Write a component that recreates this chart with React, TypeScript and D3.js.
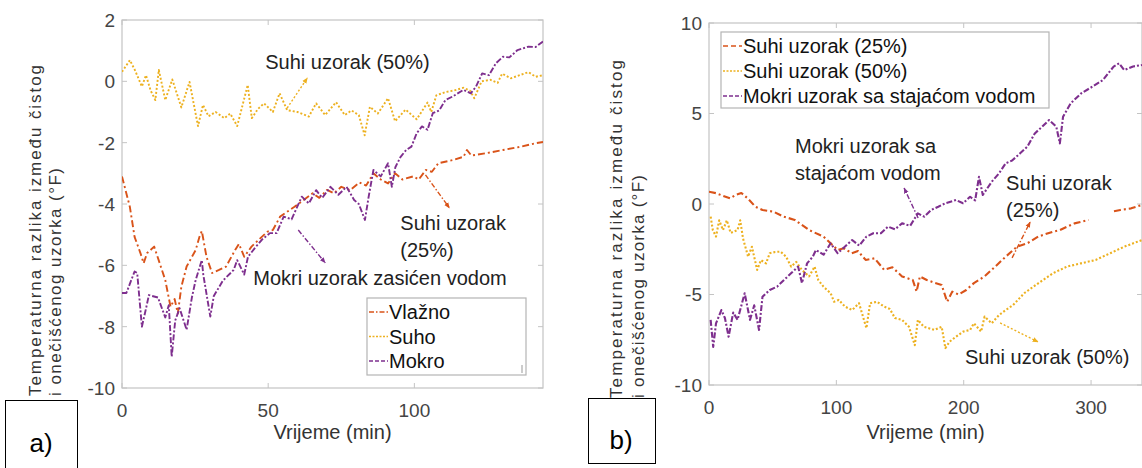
import React from 'react';
import * as d3 from 'd3';

// Series colours (MATLAB default order)
const COL_ORANGE = '#D95319';
const COL_YELLOW = '#EDB120';
const COL_PURPLE = '#7E2F8E';
const FONT = '"Liberation Sans", Arial, Helvetica, sans-serif';

// ---------- Panel a) ----------
const aTicksX = [0, 50, 100];
const aTicksY = [-10, -8, -6, -4, -2, 0, 2];
const aLegend = ['Vlažno', 'Suho', 'Mokro'];

const aVlaznoT = [0, 2.7, 4.3, 6.3, 7.4, 8.6, 11, 12.9, 14.8, 16.6, 18, 19.1, 20.3, 22.1, 25.2, 26.5, 27.3, 28.9, 30.8, 33.2, 35.6, 38.7, 40, 41.8, 44.3, 46.7, 49.8, 51.6, 54.1, 59, 65.2, 67.5, 70.1, 72.5, 75, 78, 81.2, 83.5, 86, 88.5, 91, 93.4, 95.9, 99.6, 101.5, 103.9, 106, 108.2, 113, 116.8, 118, 119.5, 124.2, 130.3, 136.5, 141.4, 144];
const aVlaznoV = [-3.1, -4.1, -5.07, -5.6, -5.93, -5.6, -5.39, -5.93, -6.48, -7.35, -7.1, -7.57, -6.7, -6.04, -5.5, -5.07, -4.88, -5.72, -6.25, -6.15, -6.04, -5.5, -5.3, -5.72, -5.39, -5.17, -4.9, -4.85, -4.41, -4.09, -3.65, -3.8, -3.54, -3.65, -3.44, -3.55, -3.3, -3.4, -3.0, -3.2, -3.33, -3.0, -3.2, -3.1, -3.2, -2.89, -2.95, -2.67, -2.57, -2.46, -2.24, -2.42, -2.35, -2.24, -2.13, -2.02, -1.98];

const aSuhoT = [0, 2.7, 4.5, 6.8, 8.2, 9.8, 11.4, 12.6, 14.8, 17.2, 20.3, 23.1, 26, 27.7, 29.6, 32, 35, 37, 39.4, 43, 44.4, 46.5, 48.6, 51.6, 53.9, 56.5, 60, 63.9, 66.4, 69.5, 73.2, 76.2, 78.5, 81, 83, 84.8, 87.5, 91, 93.4, 97, 100.8, 104.5, 105.8, 107.5, 110.6, 113.5, 116.8, 119, 120.5, 123, 126, 128.5, 130, 133, 136, 139, 141.5, 144];
const aSuhoV = [0.31, 0.69, 0.35, -0.17, 0.2, -0.3, -0.61, 0.37, -0.61, 0.06, -0.85, -0.02, -1.46, -0.77, -1.14, -1.0, -1.2, -1.05, -1.46, -0.12, -1.2, -0.9, -0.72, -1.0, -0.39, -0.94, -1.0, -1.15, -0.72, -1.1, -0.68, -1.1, -0.95, -1.1, -1.76, -0.83, -1.05, -0.55, -1.3, -0.92, -1.24, -0.69, -1.0, -0.46, -0.35, -0.3, -0.21, -0.3, -0.55, 0.0, 0.05, -0.05, 0.25, 0.1, 0.2, 0.3, 0.15, 0.2];

const aMokroT = [0, 1.5, 4.3, 5.2, 6.8, 8, 9.2, 12.3, 14.8, 16, 17, 18.2, 19.7, 22.1, 23.9, 25.2, 27.3, 27.8, 30.2, 31.4, 34.5, 38.2, 39.4, 41.8, 43.1, 45.5, 47.9, 50.6, 52.9, 55.3, 58, 61.5, 63.9, 66.4, 68.5, 71.3, 74, 76.8, 79.4, 81, 83.1, 84.3, 86, 88.5, 91, 92.3, 93.5, 95.3, 97.2, 99, 100.8, 102.6, 104.5, 106.3, 108.5, 110.6, 113, 116.8, 119.3, 121.1, 123.2, 125.5, 127.9, 130.3, 132.5, 135.3, 139, 141.5, 144];
const aMokroV = [-6.9, -6.9, -6.2, -6.25, -8.0, -7.5, -6.97, -7.05, -7.7, -7.3, -8.98, -7.8, -7.4, -8.1, -7.05, -6.48, -5.83, -6.3, -7.67, -7.0, -6.5, -6.15, -5.83, -6.3, -5.72, -5.43, -5.16, -4.95, -4.95, -4.41, -4.5, -3.76, -3.98, -3.55, -3.8, -3.44, -3.7, -3.44, -3.87, -4.0, -4.52, -3.8, -2.89, -3.1, -2.67, -3.44, -2.8, -2.46, -2.24, -2.13, -1.69, -1.47, -1.58, -1.04, -0.95, -0.61, -0.5, -0.28, -0.39, -0.17, 0.26, 0.2, 0.59, 0.8, 0.78, 1.02, 1.13, 1.12, 1.3];

// ---------- Panel b) ----------
const bTicksX = [0, 100, 200, 300];
const bTicksY = [-10, -5, 0, 5, 10];
const bLegend = ['Suhi uzorak (25%)', 'Suhi uzorak (50%)', 'Mokri uzorak sa stajaćom vodom'];

const bSuhi25T = [0, 5.5, 11, 16.7, 21, 25.4, 30.7, 36.4, 42, 50.5, 58.7, 67.4, 78.6, 89.9, 95.5, 101, 106, 112, 117, 123, 130, 137.5, 144, 151.6, 160, 163, 165.6, 171, 177, 182.7, 187, 191, 196, 202, 208, 216.4, 224.7, 233, 241.8, 250, 258.6, 270, 275.5, 287, 298, 305, 318, 323, 331.5, 340];
const bSuhi25V = [0.68, 0.6, 0.45, 0.31, 0.5, 0.61, 0.29, -0.15, -0.33, -0.42, -0.7, -0.88, -1.44, -1.8, -2.17, -2.54, -2.45, -2.72, -2.6, -3.09, -3.0, -3.64, -3.5, -4.0, -4.2, -4.84, -4.0, -4.2, -4.35, -4.47, -5.4, -4.84, -5.0, -4.75, -4.37, -4.0, -3.46, -2.91, -2.36, -2.17, -1.8, -1.53, -1.44, -1.07, -0.88, NaN, -0.4, -0.33, -0.24, -0.05];

const bSuhi50T = [1.3, 3, 5.5, 8, 11, 14, 17, 22.4, 24.5, 26.7, 30.7, 33.7, 37.8, 40.8, 44.8, 47.7, 52, 56.2, 60.5, 64.5, 68.5, 73, 78.6, 82.9, 85.8, 89.9, 95.5, 98.2, 102, 106.8, 112.4, 117.8, 123.6, 126.5, 132, 137.5, 142, 146, 151.6, 157, 161.6, 164, 168.6, 177, 182.7, 185.6, 189, 194, 199.6, 205, 208, 213.7, 216.4, 222, 227.8, 233, 238.8, 247.5, 258.5, 270, 281, 292, 303.6, 315, 326, 340];
const bSuhi50V = [-0.7, -1.44, -1.8, -0.9, -1.44, -0.9, -1.6, -1.44, -0.9, -1.9, -2.91, -2.36, -3.64, -3.1, -3.28, -2.72, -2.65, -2.63, -2.91, -3.46, -3.2, -3.65, -4.0, -3.46, -4.2, -4.57, -4.93, -5.4, -5.3, -5.67, -5.86, -5.48, -6.86, -5.48, -5.4, -5.67, -5.8, -6.3, -6.4, -6.78, -7.8, -6.4, -6.78, -6.96, -6.78, -7.96, -7.6, -7.33, -7.05, -6.96, -6.59, -7.05, -6.22, -6.59, -6.13, -5.86, -5.58, -4.93, -4.38, -3.83, -3.46, -3.28, -3.09, -2.72, -2.36, -1.99];

const bMokriT = [1.3, 3.3, 5.5, 9.7, 12.5, 15.4, 19, 22.4, 28, 32.2, 35.5, 39.3, 42, 47.7, 53.4, 58.9, 64.4, 70, 73, 77, 81.5, 84, 90, 95.5, 101, 106, 112.4, 118, 123.6, 129, 135, 140.6, 146, 151.6, 158, 164, 169, 174.4, 180, 185.5, 194, 199.5, 205, 209, 212, 215, 222, 227.8, 233, 238, 244.3, 250, 255.8, 261.6, 267, 272.7, 275.5, 278, 284, 292.4, 301, 309.3, 317.7, 322, 326, 333, 340];
const bMokriV = [-6.4, -7.9, -6.6, -5.86, -6.3, -7.33, -6.0, -6.4, -4.93, -6.4, -5.6, -6.96, -5.12, -4.75, -4.57, -4.2, -3.83, -3.46, -4.37, -3.28, -2.91, -2.54, -2.8, -2.17, -2.72, -2.4, -1.99, -2.3, -1.8, -1.62, -1.62, -1.25, -1.4, -1.07, -1.2, -0.52, -0.7, -0.33, -0.15, 0.04, 0.22, 0.04, 0.4, 0.2, 1.5, 0.5, 1.23, 1.7, 2.25, 2.4, 2.8, 3.17, 3.9, 4.27, 4.64, 4.27, 3.35, 4.82, 5.56, 6.12, 6.48, 6.85, 7.59, 7.77, 7.4, 7.6, 7.68];

type Pt = [number, number];
const zip = (t: number[], v: number[]): Pt[] => t.map((d, i) => [d, v[i]]);

const STYLE = {
  dashdot: '7,3,2,3',
  dotted: '2,2',
  dashdotPurple: '6,2,2,2',
};

type Series = { pts: Pt[]; color: string; dash: string };
type Note = { lines: string[]; x: number; y: number; from: Pt; to: Pt; color: string; dash: string };

function Panel(props: {
  id: string;
  x0: number; x1: number; y0: number; y1: number;
  xDomain: [number, number]; yDomain: [number, number];
  ticksX: number[]; ticksY: number[];
  series: Series[];
  notes: Note[];
  lineWidth: number;
}) {
  const { id, x0, x1, y0, y1, xDomain, yDomain, ticksX, ticksY, series, notes, lineWidth } = props;
  const x = d3.scaleLinear().domain(xDomain).range([x0, x1]);
  const y = d3.scaleLinear().domain(yDomain).range([y1, y0]);
  const line = d3.line<Pt>().defined((d) => !isNaN(d[1])).x((d) => x(d[0])).y((d) => y(d[1]));
  const tickLen = 5;
  const axisCol = '#c4c4c4';
  return (
    <g>
      <defs>
        <clipPath id={`clip-${id}`}>
          <rect x={x0} y={y0} width={x1 - x0} height={y1 - y0} />
        </clipPath>
      </defs>
      <rect x={x0} y={y0} width={x1 - x0} height={y1 - y0} fill="#fff" stroke={axisCol} strokeWidth={1.2} />
      {ticksX.map((t) => (
        <g key={`tx${t}`}>
          <line x1={x(t)} x2={x(t)} y1={y1} y2={y1 - tickLen} stroke={axisCol} />
          <line x1={x(t)} x2={x(t)} y1={y0} y2={y0 + tickLen} stroke={axisCol} />
          <text x={x(t)} y={y1 + 29} textAnchor="middle" fontSize={19} fill="#444" fontFamily={FONT}>{t}</text>
        </g>
      ))}
      {ticksY.map((t) => (
        <g key={`ty${t}`}>
          <line x1={x0} x2={x0 + tickLen} y1={y(t)} y2={y(t)} stroke={axisCol} />
          <line x1={x1} x2={x1 - tickLen} y1={y(t)} y2={y(t)} stroke={axisCol} />
          <text x={x0 - 7} y={y(t)} dy="0.36em" textAnchor="end" fontSize={19} fill="#444" fontFamily={FONT}>{t}</text>
        </g>
      ))}
      <g clipPath={`url(#clip-${id})`}>
        {series.map((s, i) => (
          <path key={i} d={line(s.pts) || ''} fill="none" stroke={s.color} strokeWidth={lineWidth} strokeDasharray={s.dash} strokeLinejoin="round" />
        ))}
      </g>
      {notes.map((n, i) => (
        <g key={`n${i}`}>
          <line x1={x(n.from[0])} y1={y(n.from[1])} x2={x(n.to[0])} y2={y(n.to[1])} stroke={n.color} strokeWidth={1.4} strokeDasharray={n.dash} markerEnd={`url(#head-${n.color.slice(1)})`} />
          {n.lines.map((l, j) => (
            <text key={j} x={x(n.x)} y={y(n.y) + j * 27} fontSize={20} fill="#222" fontFamily={FONT}>{l}</text>
          ))}
        </g>
      ))}
      <text x={(x0 + x1) / 2} y={439} textAnchor="middle" fontSize={20} fill="#333" fontFamily={FONT}>Vrijeme (min)</text>
    </g>
  );
}

function YLabel({ xa, xb, bottom, la, lb }: { xa: number; xb: number; bottom: number; la: number; lb: number }) {
  return (
    <g fontFamily={FONT} fontSize={17} fill="#333">
      <text transform={`translate(${xa},${bottom}) rotate(-90)`} textLength={la} lengthAdjust="spacing">Temperaturna razlika između čistog</text>
      <text transform={`translate(${xb},${bottom}) rotate(-90)`} textLength={lb} lengthAdjust="spacing">i onečišćenog uzorka (°F)</text>
    </g>
  );
}

function Legend({ x, y, w, h, items, colors, dashes, sample, rowH, tick }: {
  x: number; y: number; w: number; h: number; items: string[]; colors: string[]; dashes: string[]; sample: number; rowH: number; tick?: boolean;
}) {
  return (
    <g fontFamily={FONT}>
      <rect x={x} y={y} width={w} height={h} fill="#fff" stroke="#b4b4b4" strokeWidth={1.2} />
      {items.map((it, i) => {
        const cy = y + 14 + i * rowH;
        return (
          <g key={it}>
            <line x1={x + 2} x2={x + 2 + sample} y1={cy} y2={cy} stroke={colors[i]} strokeWidth={1.6} strokeDasharray={dashes[i]} />
            <text x={x + 3 + sample} y={cy} dy="0.36em" fontSize={20} fill="#111">{it}</text>
          </g>
        );
      })}
      {tick && <line x1={x + w - 4} x2={x + w - 4} y1={y + h - 10} y2={y + h - 2} stroke="#999" />}
    </g>
  );
}

export default function App() {
  const headColors = [COL_ORANGE, COL_YELLOW, COL_PURPLE];
  return (
    <svg width={1142} height={468} style={{ position: 'absolute', left: 0, top: 0, background: '#fff' }}>
      <defs>
        {headColors.map((c) => (
          <marker key={c} id={`head-${c.slice(1)}`} viewBox="0 0 10 10" refX={9} refY={5} markerWidth={6} markerHeight={6} orient="auto" markerUnits="userSpaceOnUse">
            <path d="M0,1 L10,5 L0,9 Z" fill={c} />
          </marker>
        ))}
      </defs>
      <rect width={1142} height={468} fill="#fff" />

      <Panel
        id="a"
        x0={122} x1={543} y0={20} y1={388}
        xDomain={[0, 144]} yDomain={[-10, 2]}
        ticksX={aTicksX} ticksY={aTicksY}
        lineWidth={1.9}
        series={[
          { pts: zip(aVlaznoT, aVlaznoV), color: COL_ORANGE, dash: STYLE.dashdot },
          { pts: zip(aSuhoT, aSuhoV), color: COL_YELLOW, dash: STYLE.dotted },
          { pts: zip(aMokroT, aMokroV), color: COL_PURPLE, dash: STYLE.dashdotPurple },
        ]}
        notes={[
          { lines: ['Suhi uzorak (50%)'], x: 49, y: 0.4, from: [56.5, -0.87], to: [63.4, 0.11], color: COL_YELLOW, dash: '2,2' },
          { lines: ['Suhi uzorak', '(25%)'], x: 95.2, y: -4.85, from: [103.8, -3.05], to: [112, -4.13], color: COL_ORANGE, dash: '5,2,1.5,2' },
          { lines: ['Mokri uzorak zasićen vodom'], x: 44.9, y: -6.64, from: [60.3, -4.85], to: [69.5, -5.92], color: COL_PURPLE, dash: '5,2,1.5,2' },
        ]}
      />
      <Legend x={367} y={298} w={159} h={77} items={aLegend} colors={[COL_ORANGE, COL_YELLOW, COL_PURPLE]} dashes={['5,2,1.5,2', '2,1.5', '4,2']} sample={19} rowH={24.5} tick />

      <Panel
        id="b"
        x0={709} x1={1142} y0={23} y1={385}
        xDomain={[0, 340]} yDomain={[-10, 10]}
        ticksX={bTicksX} ticksY={bTicksY}
        lineWidth={2.1}
        series={[
          { pts: zip(bSuhi25T, bSuhi25V), color: COL_ORANGE, dash: STYLE.dashdot },
          { pts: zip(bSuhi50T, bSuhi50V), color: COL_YELLOW, dash: STYLE.dotted },
          { pts: zip(bMokriT, bMokriV), color: COL_PURPLE, dash: STYLE.dashdotPurple },
        ]}
        notes={[
          { lines: ['Mokri uzorak sa', 'stajaćom vodom'], x: 67.6, y: 2.82, from: [164.2, -0.77], to: [153.2, 0.88], color: COL_PURPLE, dash: '5,2,1.5,2' },
          { lines: ['Suhi uzorak', '(25%)'], x: 233.3, y: 0.77, from: [238, -2.98], to: [252.2, -0.99], color: COL_ORANGE, dash: '5,2,1.5,2' },
          { lines: ['Suhi uzorak (50%)'], x: 201, y: -8.84, from: [228.6, -6.57], to: [258.4, -7.62], color: COL_YELLOW, dash: '2,2' },
        ]}
      />
      <Legend x={721} y={32} w={328} h={76} items={bLegend} colors={[COL_ORANGE, COL_YELLOW, COL_PURPLE]} dashes={['5,3', '2,1.5', '4,2']} sample={19} rowH={25} />

      <YLabel xa={41} xb={61} bottom={396} la={331} lb={228} />
      <YLabel xa={622} xb={644} bottom={398} la={338} lb={223} />

      {/* Panel markers */}
      <rect x={5.5} y={400.5} width={72} height={80} fill="#fff" stroke="#000" strokeWidth={1} />
      <text x={41} y={452} textAnchor="middle" fontSize={26} fill="#000" fontFamily={FONT}>a)</text>
      <rect x={588.5} y={398.5} width={67} height={65} fill="#fff" stroke="#000" strokeWidth={1} />
      <text x={621} y={449} textAnchor="middle" fontSize={26} fill="#000" fontFamily={FONT}>b)</text>
    </svg>
  );
}
